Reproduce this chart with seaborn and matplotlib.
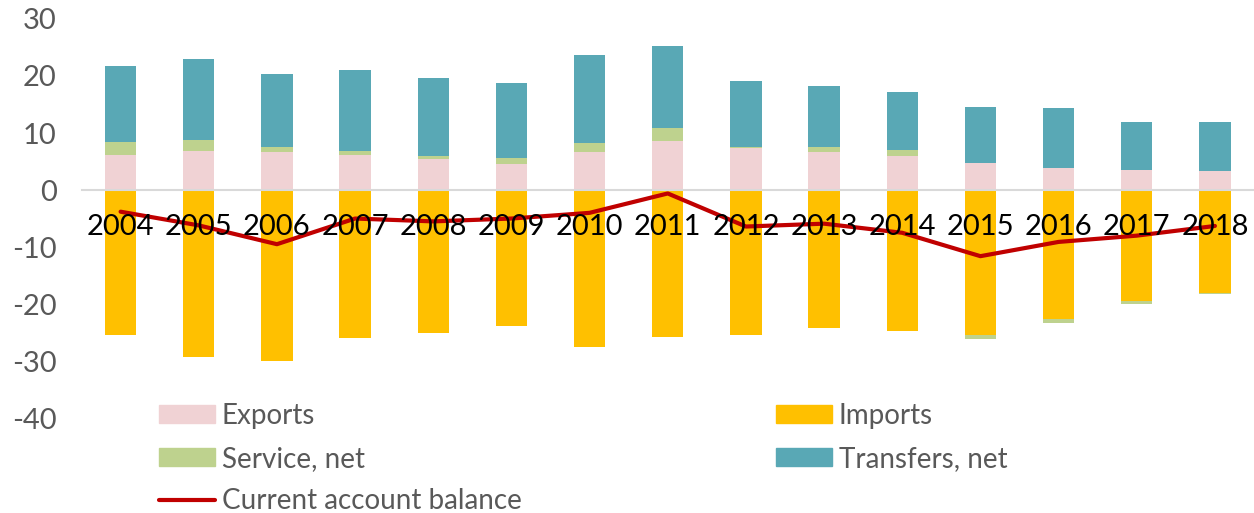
import matplotlib
matplotlib.use("Agg")
import matplotlib.pyplot as plt
import numpy as np
import pandas as pd
import seaborn as sns
from matplotlib.lines import Line2D
from matplotlib.patches import Patch

years = ["2004", "2005", "2006", "2007", "2008", "2009", "2010", "2011",
         "2012", "2013", "2014", "2015", "2016", "2017", "2018"]
exports = [6.2, 6.8, 6.6, 6.1, 5.5, 4.5, 6.7, 8.6, 7.4, 6.6, 5.9, 4.7, 3.8, 3.5, 3.3]
imports = [-25.5, -29.2, -29.9, -26.0, -25.1, -23.8, -27.6, -25.8, -25.5, -24.2,
           -24.7, -25.5, -22.6, -19.4, -18.0]
service = [2.3, 1.9, 0.9, 0.8, 0.5, 1.2, 1.5, 2.2, 0.1, 0.9, 1.2, -0.6, -0.8, -0.6, -0.3]
transfers = [13.2, 14.3, 12.9, 14.1, 13.6, 13.1, 15.4, 14.4, 11.6, 10.8, 10.1,
             9.8, 10.5, 8.5, 8.7]
balance = [-3.8, -6.2, -9.5, -5.0, -5.5, -5.0, -4.0, -0.6, -6.4, -5.9, -7.5,
           -11.6, -9.1, -8.0, -6.3]

C_EXP = "#F0D2D4"
C_IMP = "#FFC000"
C_SVC = "#BED28E"
C_TRF = "#59A8B5"
C_LINE = "#C00000"

df = pd.DataFrame({"year": years, "exp": exports, "imp": imports,
                   "svc": service, "trf": transfers, "bal": balance})
df["svc_pos"] = df["svc"].clip(lower=0)
df["svc_neg"] = df["svc"].clip(upper=0)
df["top"] = df["exp"] + df["svc_pos"] + df["trf"]
df["mid"] = df["exp"] + df["svc_pos"]
df["low"] = df["imp"] + df["svc_neg"]
df["pos"] = np.arange(len(df))

sns.set_theme(style="white")
plt.rcParams["font.family"] = ["Lato", "DejaVu Sans"]
plt.rcParams["axes.unicode_minus"] = False

fig, ax = plt.subplots(figsize=(12.54, 5.13), dpi=100)
fig.subplots_adjust(left=0.065, right=1.0, top=0.963, bottom=0.185)

# overlaid cumulative bars give the stacked look
for col, color in [("top", C_TRF), ("mid", C_SVC), ("exp", C_EXP),
                   ("low", C_SVC), ("imp", C_IMP)]:
    sns.barplot(data=df, x="year", y=col, color=color, width=0.4,
                saturation=1, ax=ax, linewidth=0)

sns.lineplot(data=df, x="pos", y="bal", color=C_LINE, linewidth=3,
             ax=ax, zorder=2)

ax.set_ylim(-40, 30)
ax.set_xlim(-0.5, len(years) - 0.5)
ax.set_yticks([-40, -30, -20, -10, 0, 10, 20, 30])
ax.set_xticks(df["pos"])
ax.set_xticklabels(years)
ax.set_xlabel("")
ax.set_ylabel("")

for s in ["top", "right", "left"]:
    ax.spines[s].set_visible(False)
ax.spines["bottom"].set_position(("data", 0))
ax.spines["bottom"].set_color("#D9D9D9")
ax.spines["bottom"].set_linewidth(1.5)
ax.set_axisbelow(False)

ax.tick_params(axis="x", length=0, pad=17, labelsize=21, labelcolor="black")
ax.tick_params(axis="y", length=0, pad=18, labelsize=21, labelcolor="#595959")

h_col1 = [Patch(color=C_EXP, label="Exports"),
          Patch(color=C_SVC, label="Service, net"),
          Line2D([0], [0], color=C_LINE, lw=3, label="Current account balance")]
h_col2 = [Patch(color=C_IMP, label="Imports"),
          Patch(color=C_TRF, label="Transfers, net")]

for handles, xpos in [(h_col1, 159 / 1254), (h_col2, 776 / 1254)]:
    fig.legend(handles=handles, loc="upper left",
               bbox_to_anchor=(xpos, 1 - 403 / 513), frameon=False,
               fontsize=20, handlelength=2.0, handleheight=0.6,
               handletextpad=0.25, labelspacing=0.6,
               borderaxespad=0, borderpad=0, labelcolor="#595959")

fig.savefig("out.png", dpi=100)
